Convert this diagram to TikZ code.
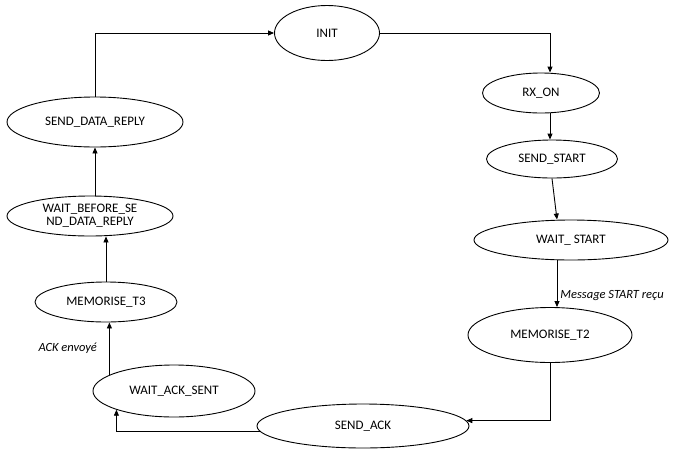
\documentclass[tikz,border=0pt]{standalone}
\usepackage{fontspec}
\setmainfont{Carlito}
\usetikzlibrary{shapes.geometric,arrows.meta}
\begin{document}
\begin{tikzpicture}[x=1pt,y=-1pt,
  st/.style={ellipse,draw,line width=0.9pt,inner sep=0pt,font=\fontsize{13}{14}\selectfont},
  conn/.style={line width=0.9pt,-{Triangle[length=6pt,width=5pt]}},
  lbl/.style={font=\fontsize{12.5}{14}\selectfont\itshape,inner sep=0pt}]
\useasboundingbox (0,0) rectangle (673,451);
\node[st,minimum width=105pt,minimum height=55pt] (init) at (327,33) {INIT};
\node[st,minimum width=117pt,minimum height=40pt] (rxon) at (541,93) {RX\_ON};
\node[st,minimum width=131pt,minimum height=38pt] (sendstart) at (552,159) {SEND\_START};
\node[st,minimum width=194pt,minimum height=40pt] (waitstart) at (571,240) {WAIT\_ START};
\node[st,minimum width=164pt,minimum height=55pt] (mem2) at (550,335) {MEMORISE\_T2};
\node[st,minimum width=212pt,minimum height=44pt] (sendack) at (363,426) {SEND\_ACK};
\node[st,minimum width=162pt,minimum height=52pt] (waitack) at (174,391) {WAIT\_ACK\_SENT};
\node[st,minimum width=142pt,minimum height=40pt] (mem3) at (106,302) {MEMORISE\_T3};
\node[st,minimum width=166pt,minimum height=40pt,align=center,font=\fontsize{13}{13}\selectfont] (waitbefore) at (90,216) {WAIT\_BEFORE\_SE\\ND\_DATA\_REPLY};
\node[st,minimum width=176pt,minimum height=50pt] (sdr) at (95,122) {SEND\_DATA\_REPLY};
\coordinate (xa) at (550,0);
\coordinate (xw) at (557,0);
\draw[conn] (sdr.north) |- (init.west);
\draw[conn] (init.east) -| (xa |- rxon.north);
\draw[conn] (xa |- rxon.south) -- (xa |- sendstart.north);
\draw[conn] (sendstart.south) -- (xw |- waitstart.north);
\draw[conn] (xw |- waitstart.south) -- node[lbl,right=3pt,pos=0.75] (l1) {Message START reçu} (xw |- mem2.north);
\draw[conn] (mem2.south) |- (sendack.3);
\draw[conn] (sendack.183) -| (waitack.198.6);
\draw[conn] (waitack.166) -- node[lbl,left=12pt,pos=0.5] (l2) {ACK envoyé} (waitack.166 |- mem3.south);
\draw[conn] (mem3.north) -- (mem3.north |- waitbefore.south);
\draw[conn] (sdr.south |- waitbefore.north) -- (sdr.south);
\end{tikzpicture}
\end{document}
